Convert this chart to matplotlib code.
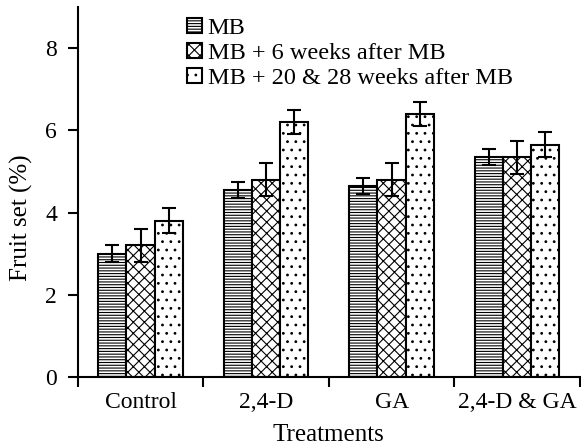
import numpy as np
import matplotlib
matplotlib.use("Agg")
import matplotlib.pyplot as plt

plt.rcParams['font.family'] = ['Liberation Serif', 'DejaVu Serif']
plt.rcParams['hatch.linewidth'] = 0.8

treatments = ["Control", "2,4-D", "GA", "2,4-D & GA"]
series = ["MB", "MB + 6 weeks after MB", "MB + 20 & 28 weeks after MB"]
mb = [3.0, 4.55, 4.65, 5.35]
mb_err = [0.2, 0.2, 0.2, 0.2]
mb6 = [3.2, 4.8, 4.8, 5.35]
mb6_err = [0.4, 0.4, 0.4, 0.4]
mb2028 = [3.8, 6.2, 6.4, 5.65]
mb2028_err = [0.3, 0.3, 0.3, 0.3]

values = [mb, mb6, mb2028]
errors = [mb_err, mb6_err, mb2028_err]
hatches = ['------', 'xxx', '..']

fig = plt.figure(figsize=(5.81, 4.47), dpi=100)
ax = fig.add_axes([0.134, 0.157, 0.864, 0.827])

x = np.arange(len(treatments)) + 0.5
w = 0.225
for i in range(3):
    ax.bar(x + (i - 1) * w, values[i], w, color='white', edgecolor='black',
           hatch=hatches[i], linewidth=1.5, label=series[i],
           yerr=errors[i], capsize=5,
           error_kw=dict(ecolor='black', elinewidth=1.5, capthick=1.5))

ax.set_xlim(0, 4)
ax.set_ylim(0, 9)
ax.set_yticks([0, 2, 4, 6, 8])
ax.set_xticks([0, 1, 2, 3, 4])
ax.set_xticklabels([])
ax.set_xticks(x, minor=True)
ax.set_xticklabels(treatments, minor=True)
ax.tick_params(axis='x', which='minor', length=0, labelsize=17, pad=11)
ax.tick_params(axis='both', which='major', direction='out', length=7, width=1.5, labelsize=17)
ax.tick_params(axis='y', pad=8)
ax.spines['top'].set_visible(False)
ax.spines['right'].set_visible(False)
ax.spines['left'].set_linewidth(1.5)
ax.spines['bottom'].set_linewidth(1.5)

ax.set_xlabel("Treatments", fontsize=18, labelpad=8)
ax.set_ylabel("Fruit set (%)", fontsize=18)
ax.yaxis.set_label_coords(-0.09, 0.43)

ax.legend(loc='upper left', bbox_to_anchor=(0.322, 0.96), bbox_transform=fig.transFigure,
          frameon=False, fontsize=17.5, handlelength=0.6, handleheight=0.6,
          handletextpad=0.25, labelspacing=0.15, borderaxespad=0, borderpad=0)

fig.savefig("out.png", dpi=100)
